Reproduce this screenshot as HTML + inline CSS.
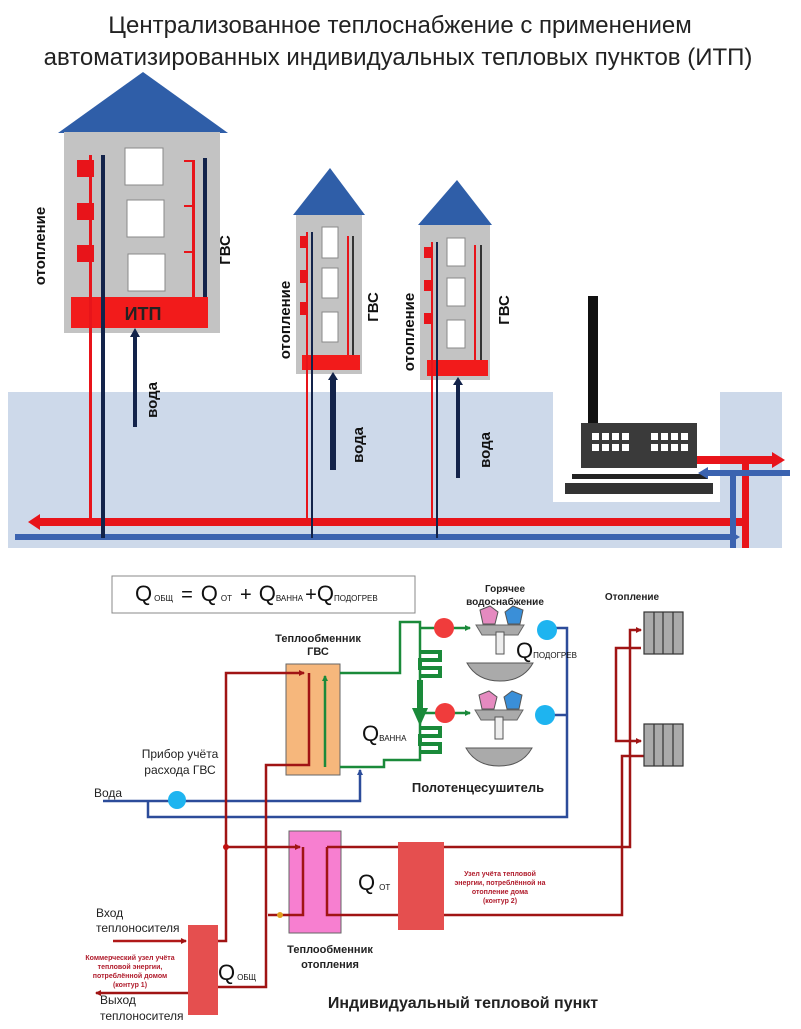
<!DOCTYPE html>
<html><head><meta charset="utf-8"><style>
html,body{margin:0;padding:0;background:#fff}
svg{display:block}
text{font-family:"Liberation Sans",sans-serif}
</style></head><body>
<svg width="801" height="1029" viewBox="0 0 801 1029" xmlns="http://www.w3.org/2000/svg">
<defs>
<marker id="ar" markerWidth="6" markerHeight="6" refX="5" refY="3" orient="auto" markerUnits="userSpaceOnUse"><path d="M0,0 L6,3 L0,6z" fill="#a01414"/></marker>
<marker id="ab" markerWidth="6" markerHeight="6" refX="5" refY="3" orient="auto" markerUnits="userSpaceOnUse"><path d="M0,0 L6,3 L0,6z" fill="#2c4c9a"/></marker>
<marker id="ag" markerWidth="6" markerHeight="6" refX="5" refY="3" orient="auto" markerUnits="userSpaceOnUse"><path d="M0,0 L6,3 L0,6z" fill="#1a8a3a"/></marker>
</defs>
<text x="400" y="33" font-size="24" text-anchor="middle" fill="#222">Централизованное теплоснабжение с применением</text>
<text x="398" y="65" font-size="24" text-anchor="middle" fill="#222">автоматизированных индивидуальных тепловых пунктов (ИТП)</text>

<!-- ground band -->
<rect x="8" y="392" width="545" height="156" fill="#cdd9ea"/>
<rect x="553" y="502" width="170" height="46" fill="#cdd9ea"/>
<rect x="720" y="392" width="62" height="156" fill="#cdd9ea"/>

<!-- factory -->
<rect x="588" y="296" width="10" height="128" fill="#111"/>
<rect x="581" y="423" width="116" height="45" fill="#3a3a3a"/>
<g fill="#fff">
<rect x="592" y="433" width="7" height="7"/><rect x="602" y="433" width="7" height="7"/><rect x="612" y="433" width="7" height="7"/><rect x="622" y="433" width="7" height="7"/>
<rect x="592" y="444" width="7" height="7"/><rect x="602" y="444" width="7" height="7"/><rect x="612" y="444" width="7" height="7"/><rect x="622" y="444" width="7" height="7"/>
<rect x="651" y="433" width="7" height="7"/><rect x="661" y="433" width="7" height="7"/><rect x="671" y="433" width="7" height="7"/><rect x="681" y="433" width="7" height="7"/>
<rect x="651" y="444" width="7" height="7"/><rect x="661" y="444" width="7" height="7"/><rect x="671" y="444" width="7" height="7"/><rect x="681" y="444" width="7" height="7"/>
</g>
<rect x="572" y="474" width="136" height="5" fill="#222"/>
<rect x="565" y="483" width="148" height="11" fill="#333"/>

<!-- main pipes -->
<rect x="36" y="518" width="710" height="8" fill="#e8141a"/>
<path d="M28,522 L40,514 L40,530z" fill="#e8141a"/>
<rect x="15" y="534" width="720" height="6" fill="#3b63b0"/>
<path d="M740,537 L730,531 L730,543z" fill="#3b63b0"/>
<rect x="742" y="460" width="7" height="88" fill="#e8141a"/>
<rect x="730" y="472" width="6" height="76" fill="#3b63b0"/>
<rect x="697" y="456" width="78" height="8" fill="#e8141a"/>
<path d="M785,460 L772,452 L772,468z" fill="#e8141a"/>
<rect x="706" y="470" width="84" height="6" fill="#3b63b0"/>
<path d="M698,473 L708,467 L708,479z" fill="#3b63b0"/>

<!-- House 1 -->
<polygon points="58,133 143,72 228,133" fill="#2f5ea8"/>
<rect x="64" y="132" width="156" height="201" fill="#c3c3c3"/>
<rect x="125" y="148" width="38" height="37" fill="#fff" stroke="#888"/>
<rect x="127" y="200" width="37" height="37" fill="#fff" stroke="#888"/>
<rect x="128" y="254" width="37" height="37" fill="#fff" stroke="#888"/>
<rect x="77" y="160" width="17" height="17" fill="#e8141a"/>
<rect x="77" y="203" width="17" height="17" fill="#e8141a"/>
<rect x="77" y="245" width="17" height="17" fill="#e8141a"/>
<rect x="192" y="160" width="3" height="137" fill="#e8141a"/>
<rect x="184" y="160" width="10" height="2" fill="#e8141a"/><rect x="184" y="205" width="10" height="2" fill="#e8141a"/><rect x="184" y="251" width="10" height="2" fill="#e8141a"/>
<rect x="203" y="158" width="4" height="139" fill="#13234a"/>
<rect x="71" y="297" width="137" height="31" fill="#f21b1b"/>
<text x="143" y="320" font-size="18" font-weight="bold" text-anchor="middle" fill="#222">ИТП</text>
<rect x="89" y="155" width="3" height="367" fill="#e8141a"/>
<rect x="101" y="155" width="4" height="383" fill="#13234a"/>
<rect x="133" y="335" width="4" height="92" fill="#13234a"/>
<path d="M135,328 L130,337 L140,337z" fill="#13234a"/>
<text transform="translate(45,246) rotate(-90)" font-size="15" font-weight="bold" text-anchor="middle" fill="#111">отопление</text>
<text transform="translate(230,250) rotate(-90)" font-size="15" font-weight="bold" text-anchor="middle" fill="#111">ГВС</text>
<text transform="translate(157,400) rotate(-90)" font-size="15" font-weight="bold" text-anchor="middle" fill="#111">вода</text>

<!-- House 2 -->
<polygon points="293,215 330,168 365,215" fill="#2f5ea8"/>
<rect x="296" y="215" width="66" height="159" fill="#c3c3c3"/>
<rect x="322" y="227" width="16" height="31" fill="#fff" stroke="#888"/>
<rect x="322" y="268" width="16" height="30" fill="#fff" stroke="#888"/>
<rect x="322" y="312" width="16" height="30" fill="#fff" stroke="#888"/>
<rect x="300" y="236" width="8" height="12" fill="#e8141a"/>
<rect x="300" y="270" width="8" height="13" fill="#e8141a"/>
<rect x="300" y="302" width="8" height="13" fill="#e8141a"/>
<rect x="347" y="236" width="2" height="120" fill="#e8141a"/>
<rect x="352" y="236" width="2" height="120" fill="#333"/>
<rect x="302" y="355" width="58" height="15" fill="#f21b1b"/>
<rect x="306" y="232" width="2" height="290" fill="#e8141a"/>
<rect x="311" y="232" width="2" height="306" fill="#13234a"/>
<rect x="330" y="378" width="6" height="92" fill="#13234a"/>
<path d="M333,372 L328,380 L338,380z" fill="#13234a"/>
<text transform="translate(290,320) rotate(-90)" font-size="15" font-weight="bold" text-anchor="middle" fill="#111">отопление</text>
<text transform="translate(378,307) rotate(-90)" font-size="15" font-weight="bold" text-anchor="middle" fill="#111">ГВС</text>
<text transform="translate(363,445) rotate(-90)" font-size="15" font-weight="bold" text-anchor="middle" fill="#111">вода</text>

<!-- House 3 -->
<polygon points="418,225 457,180 492,225" fill="#2f5ea8"/>
<rect x="420" y="225" width="70" height="155" fill="#c3c3c3"/>
<rect x="447" y="238" width="18" height="28" fill="#fff" stroke="#888"/>
<rect x="447" y="278" width="18" height="28" fill="#fff" stroke="#888"/>
<rect x="447" y="320" width="18" height="28" fill="#fff" stroke="#888"/>
<rect x="424" y="247" width="8" height="11" fill="#e8141a"/>
<rect x="424" y="280" width="8" height="11" fill="#e8141a"/>
<rect x="424" y="313" width="8" height="11" fill="#e8141a"/>
<rect x="474" y="245" width="2" height="115" fill="#e8141a"/>
<rect x="480" y="245" width="2" height="115" fill="#333"/>
<rect x="427" y="360" width="61" height="16" fill="#f21b1b"/>
<rect x="431" y="242" width="2" height="280" fill="#e8141a"/>
<rect x="436" y="242" width="2" height="296" fill="#13234a"/>
<rect x="456" y="384" width="4" height="94" fill="#13234a"/>
<path d="M458,377 L453,385 L463,385z" fill="#13234a"/>
<text transform="translate(414,332) rotate(-90)" font-size="15" font-weight="bold" text-anchor="middle" fill="#111">отопление</text>
<text transform="translate(509,310) rotate(-90)" font-size="15" font-weight="bold" text-anchor="middle" fill="#111">ГВС</text>
<text transform="translate(490,450) rotate(-90)" font-size="15" font-weight="bold" text-anchor="middle" fill="#111">вода</text>

<!-- ===== Bottom schematic ===== -->
<rect x="112" y="576" width="303" height="37" fill="#fff" stroke="#888"/>
<text y="601" fill="#111"><tspan x="135" font-size="22">Q</tspan><tspan font-size="8" dx="2">ОБЩ</tspan><tspan font-size="20" dx="8">=</tspan><tspan font-size="22" dx="8">Q</tspan><tspan font-size="8" dx="3">ОТ</tspan><tspan font-size="20" dx="8">+</tspan><tspan font-size="22" dx="7">Q</tspan><tspan font-size="8">ВАННА</tspan><tspan font-size="20" dx="2">+</tspan><tspan font-size="22">Q</tspan><tspan font-size="8">ПОДОГРЕВ</tspan></text>

<!-- exchangers -->
<rect x="286" y="664" width="54" height="111" fill="#f6b77c" stroke="#666"/>
<rect x="289" y="831" width="52" height="102" fill="#f77fd0" stroke="#666"/>
<rect x="398" y="842" width="46" height="88" fill="#e54f4f"/>
<rect x="188" y="925" width="30" height="90" fill="#e54f4f"/>

<g fill="none" stroke-width="2.5">
<!-- blue -->
<path d="M103,801 H360 V770" stroke="#2c4c9a" marker-end="url(#ab)"/>
<path d="M148,801 V817 H567 V628 H548" stroke="#2c4c9a"/>
<path d="M567,715 H545" stroke="#2c4c9a"/>
<!-- green -->
<path d="M340,673 H400 V622 H420 V760 H384 V767 H340" stroke="#1a8a3a"/>
<path d="M325,767 V676" stroke="#1a8a3a" marker-end="url(#ag)"/>
<path d="M420,628 H470" stroke="#1a8a3a" marker-end="url(#ag)"/>
<path d="M420,713 H470" stroke="#1a8a3a" marker-end="url(#ag)"/>
<!-- red -->
<path d="M113,941 H186" stroke="#b01818" marker-end="url(#ar)"/>
<path d="M218,941 H226 V673 H304" stroke="#a01414" marker-end="url(#ar)"/>
<path d="M226,847 H300" stroke="#a01414" marker-end="url(#ar)"/>
<path d="M309,673 V765 H266 V987 H218" stroke="#a01414"/>
<path d="M303,847 V915 H268" stroke="#a01414"/>
<path d="M188,993 H96" stroke="#a01414" marker-end="url(#ar)"/>
<path d="M327,847 H398 M444,847 H630 V630 H641" stroke="#a01414" marker-end="url(#ar)"/>
<path d="M641,648 H616 V741 H641" stroke="#a01414" marker-end="url(#ar)"/>
<path d="M327,847 V915 H398 M444,915 H622 V756 H644" stroke="#a01414"/>
</g>
<!-- coils -->
<g fill="none" stroke="#1a8a3a" stroke-width="4">
<path d="M420,652 H440 V660 H420 V668 H440 V676 H420"/>
<path d="M420,728 H440 V736 H420 V744 H440 V752 H420"/>
</g>
<path d="M412,708 L428,708 L420,726z" fill="#1a8a3a"/>
<rect x="417" y="680" width="6" height="30" fill="#1a8a3a"/>
<circle cx="280" cy="915" r="3" fill="#e0a020"/>
<circle cx="226" cy="847" r="3" fill="#c01010"/>
<circle cx="177" cy="800" r="9" fill="#1eb4f0"/>
<circle cx="444" cy="628" r="10" fill="#f03c3c"/>
<circle cx="445" cy="713" r="10" fill="#f03c3c"/>
<circle cx="547" cy="630" r="10" fill="#1eb4f0"/>
<circle cx="545" cy="715" r="10" fill="#1eb4f0"/>
<!-- faucets -->
<g>
<path d="M476,625 h48 l-6,10 h-36z" fill="#aaa" stroke="#666"/>
<path d="M480,610 l10,-4 l8,6 l-3,12 h-12z" fill="#e58ac0" stroke="#555"/>
<path d="M505,612 l8,-6 l10,4 l-3,14 h-12z" fill="#3a8fd8" stroke="#555"/>
<rect x="496" y="632" width="8" height="22" fill="#eee" stroke="#555"/>
<path d="M467,663 h66 q-10,18 -33,18 q-23,0 -33,-18z" fill="#aaa" stroke="#555"/>
</g>
<g transform="translate(-1,85)">
<path d="M476,625 h48 l-6,10 h-36z" fill="#aaa" stroke="#666"/>
<path d="M480,610 l10,-4 l8,6 l-3,12 h-12z" fill="#e58ac0" stroke="#555"/>
<path d="M505,612 l8,-6 l10,4 l-3,14 h-12z" fill="#3a8fd8" stroke="#555"/>
<rect x="496" y="632" width="8" height="22" fill="#eee" stroke="#555"/>
<path d="M467,663 h66 q-10,18 -33,18 q-23,0 -33,-18z" fill="#aaa" stroke="#555"/>
</g>
<!-- radiators -->
<g fill="#aaa" stroke="#333" stroke-width="1.2">
<rect x="644" y="612" width="39" height="42"/><line x1="654" y1="612" x2="654" y2="654"/><line x1="663" y1="612" x2="663" y2="654"/><line x1="673" y1="612" x2="673" y2="654"/>
<rect x="644" y="724" width="39" height="42"/><line x1="654" y1="724" x2="654" y2="766"/><line x1="663" y1="724" x2="663" y2="766"/><line x1="673" y1="724" x2="673" y2="766"/>
</g>

<!-- labels -->
<g font-weight="bold" fill="#222" text-anchor="middle">
<text x="318" y="642" font-size="11">Теплообменник</text>
<text x="318" y="655" font-size="11">ГВС</text>
<text x="505" y="592" font-size="10">Горячее</text>
<text x="505" y="605" font-size="10">водоснабжение</text>
<text x="632" y="600" font-size="10">Отопление</text>
<text x="478" y="792" font-size="13">Полотенцесушитель</text>
<text x="330" y="953" font-size="11">Теплообменник</text>
<text x="330" y="968" font-size="11">отопления</text>
<text x="463" y="1008" font-size="16">Индивидуальный тепловой пункт</text>
</g>
<text y="741" fill="#111"><tspan x="362" font-size="22">Q</tspan><tspan font-size="8">ВАННА</tspan></text>
<text y="658" fill="#111"><tspan x="516" font-size="22">Q</tspan><tspan font-size="8">ПОДОГРЕВ</tspan></text>
<text y="890" fill="#111"><tspan x="358" font-size="22">Q</tspan><tspan font-size="8" dx="4">ОТ</tspan></text>
<text y="980" fill="#111"><tspan x="218" font-size="22">Q</tspan><tspan font-size="8" dx="2">ОБЩ</tspan></text>
<g fill="#222" font-size="12">
<text x="180" y="758" text-anchor="middle">Прибор учёта</text>
<text x="180" y="774" text-anchor="middle">расхода ГВС</text>
<text x="94" y="797">Вода</text>
<text x="96" y="917">Вход</text>
<text x="96" y="932">теплоносителя</text>
<text x="100" y="1004">Выход</text>
<text x="100" y="1020">теплоносителя</text>
</g>
<g fill="#b01c2c" font-size="7" font-weight="bold" text-anchor="middle">
<text x="500" y="876">Узел учёта тепловой</text>
<text x="500" y="885">энергии, потреблённой на</text>
<text x="500" y="894">отопление дома</text>
<text x="500" y="903">(контур 2)</text>
<text x="130" y="960">Коммерческий узел учёта</text>
<text x="130" y="969">тепловой энергии,</text>
<text x="130" y="978">потреблённой домом</text>
<text x="130" y="987">(контур 1)</text>
</g>
</svg>
</body></html>
